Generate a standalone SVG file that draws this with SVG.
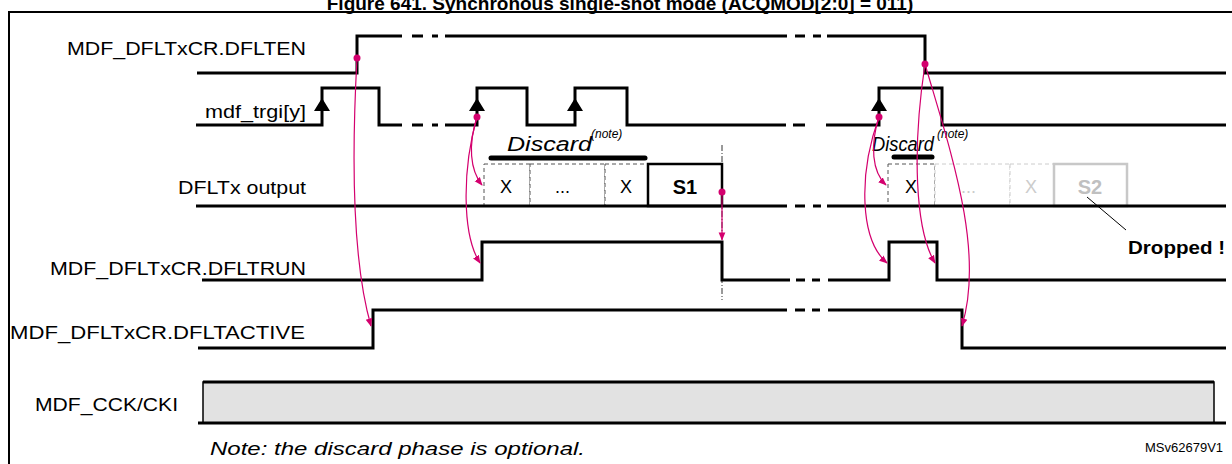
<svg xmlns="http://www.w3.org/2000/svg" width="1232" height="464" viewBox="0 0 1232 464">
<defs>
<marker id="ah" viewBox="0 0 10 10" refX="9" refY="5" markerWidth="7" markerHeight="7" orient="auto"><path d="M0,1 L10,5 L0,9 z" fill="#d4006e"/></marker>
<style>
.w{fill:none;stroke:#000;stroke-width:3}
.t{font-family:"Liberation Sans",Arial,sans-serif;font-size:19px;fill:#000}
.x{font-family:"Liberation Sans",Arial,sans-serif;font-size:18px;fill:#000}
.m{fill:none;stroke:#d4006e;stroke-width:1.2;marker-end:url(#ah)}
.d{fill:#d4006e}
.tri{fill:#000}
.db{fill:#fff;stroke:#555;stroke-width:1;stroke-dasharray:4,3}
.lg{fill:#fff;stroke:#ccc;stroke-width:1;stroke-dasharray:4,3}
.it{font-family:"Liberation Sans",Arial,sans-serif;font-style:italic}
</style>
</defs>
<rect width="1232" height="464" fill="#fff"/>
<text x="620" y="10" text-anchor="middle" style="font-family:'Liberation Sans',Arial,sans-serif;font-size:19px;font-weight:bold">Figure 641. Synchronous single-shot mode (ACQMOD[2:0] = 011)</text>
<rect x="9" y="12" width="1230" height="460" fill="none" stroke="#000" stroke-width="2"/>

<g id="dflten">
<text class="t" x="67" y="55" textLength="239" lengthAdjust="spacingAndGlyphs">MDF_DFLTxCR.DFLTEN</text>
<path class="w" d="M197,73 H357 V36 H402 M412,36 H423 M432,36 H438 M445,36 H787 M795,36 H805 M813,36 H821 M827,36 H925 V73 H1226"/>
</g>
<g id="trgi">
<text class="t" x="205" y="118" textLength="101" lengthAdjust="spacingAndGlyphs">mdf_trgi[y]</text>
<path class="w" d="M196,125 H322 V88 H379 V125 H402 M412,125 H423 M432,125 H438 M445,125 H477 V88 H527 V125 H575 V88 H627 V125 H786 M793,125 H805 M826,125 H879 V88 H942 V125 H1226"/>
<path class="tri" d="M322,98 L314,111 L330,111 z M477,98 L469,111 L485,111 z M575,98 L567,111 L583,111 z M879,98 L871,111 L887,111 z"/>
</g>
<g id="discard">
<text class="it" x="507" y="151" font-size="20" textLength="85" lengthAdjust="spacingAndGlyphs">Discard</text>
<text class="it" x="591" y="138" font-size="12">(note)</text>
<line x1="491" y1="158" x2="645" y2="158" stroke="#000" stroke-width="5" stroke-linecap="round"/>
<text class="it" x="872" y="151" font-size="20" textLength="62" lengthAdjust="spacingAndGlyphs">Discard</text>
<text class="it" x="937" y="138" font-size="12">(note)</text>
<line x1="894" y1="157" x2="932" y2="157" stroke="#000" stroke-width="5" stroke-linecap="round"/>
</g>
<g id="output">
<text class="t" x="178" y="194" textLength="128" lengthAdjust="spacingAndGlyphs">DFLTx output</text>
<rect class="db" x="484" y="164" width="46" height="42"/>
<rect class="db" x="530" y="164" width="75" height="42"/>
<rect class="db" x="605" y="164" width="43" height="42"/>
<text class="x" x="500" y="193">X</text>
<text class="x" x="555" y="193">...</text>
<text class="x" x="620" y="193">X</text>
<rect x="648" y="164" width="74" height="42" fill="#fff" stroke="#000" stroke-width="2.5"/>
<text x="685" y="194" text-anchor="middle" style="font-family:'Liberation Sans',Arial,sans-serif;font-size:20px;font-weight:bold">S1</text>
<line x1="722" y1="145" x2="722" y2="300" stroke="#000" stroke-width="0.8" stroke-dasharray="6,2,1,2"/>
<rect class="db" x="888" y="164" width="47" height="42"/>
<rect class="lg" x="935" y="164" width="75" height="42"/>
<rect class="lg" x="1010" y="164" width="44" height="42"/>
<text class="x" x="905" y="193">X</text>
<text class="x" x="961" y="193" style="fill:#ccc">...</text>
<text class="x" x="1025" y="193" style="fill:#ccc">X</text>
<rect x="1054" y="164" width="73" height="42" fill="#fff" stroke="#c8c8c8" stroke-width="2.5"/>
<text x="1090" y="194" text-anchor="middle" style="font-family:'Liberation Sans',Arial,sans-serif;font-size:20px;font-weight:bold;fill:#c0c0c0">S2</text>
<path class="w" d="M196,206 H787 M795,206 H805 M813,206 H821 M827,206 H1226"/>
<line x1="1087" y1="197" x2="1126" y2="230" stroke="#000" stroke-width="1"/>
<text x="1128" y="254" textLength="97" lengthAdjust="spacingAndGlyphs" style="font-family:'Liberation Sans',Arial,sans-serif;font-size:18px;font-weight:bold">Dropped !</text>
</g>
<g id="dfltrun">
<text class="t" x="50" y="275" textLength="256" lengthAdjust="spacingAndGlyphs">MDF_DFLTxCR.DFLTRUN</text>
<path class="w" d="M202,280 H482 V242 H722 V280 H790 M796,280 H805 M812,280 H820 M828,280 H889 V242 H937 V280 H1226"/>
</g>
<g id="dfltactive">
<text class="t" x="10" y="339" textLength="295" lengthAdjust="spacingAndGlyphs">MDF_DFLTxCR.DFLTACTIVE</text>
<path class="w" d="M198,348 H373 V310 H787 M795,310 H805 M812,310 H820 M828,310 H962 V348 H1226"/>
</g>
<g id="cck">
<text class="t" x="35" y="411" textLength="143" lengthAdjust="spacingAndGlyphs">MDF_CCK/CKI</text>
<rect x="203" y="382" width="1011" height="41" fill="#e2e2e2" stroke="#000" stroke-width="1.5"/>
<path class="w" d="M203,382 H1214 M198,423 H1226"/>
</g>
<g id="connectors">
<circle class="d" cx="357" cy="58" r="3.5"/>
<path class="m" d="M357,58 C352,150 352,260 371,326"/>
<circle class="d" cx="477" cy="117" r="3.5"/>
<path class="m" d="M477,117 C468,145 470,170 482,185"/>
<path class="m" d="M477,117 C462,170 462,235 480,263"/>
<circle class="d" cx="722" cy="192" r="3.5"/>
<path class="m" d="M722,192 V240"/>
<circle class="d" cx="879" cy="117" r="3.5"/>
<path class="m" d="M879,117 C870,145 872,172 886,185"/>
<path class="m" d="M879,117 C858,175 860,240 887,263"/>
<circle class="d" cx="925" cy="64" r="3.5"/>
<path class="m" d="M925,64 C912,150 915,230 935,263"/>
<path class="m" d="M925,64 C950,150 985,250 962,326"/>
</g>
<text class="it" x="210" y="455" font-size="19" textLength="375" lengthAdjust="spacingAndGlyphs">Note: the discard phase is optional.</text>
<text x="1145" y="452" style="font-family:'Liberation Sans',Arial,sans-serif;font-size:13px">MSv62679V1</text>
</svg>
